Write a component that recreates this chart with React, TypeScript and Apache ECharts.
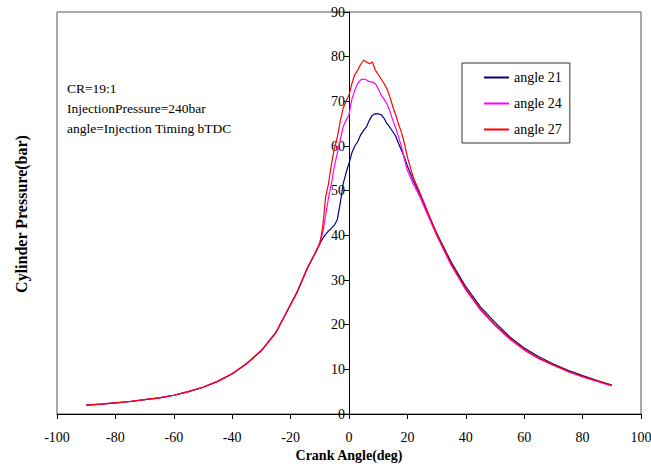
import React, { useEffect, useRef } from "react";
import * as echarts from "echarts";

const crankAngle = [
  -90, -85, -80, -75, -70, -65, -60, -55, -50, -45, -40, -35, -30, -25, -20, -18, -16, -14, -12, -11,
  -10, -9, -8, -7, -6, -5, -4, -3, -2, -1, 0, 1, 2, 3, 4, 5, 6, 7, 8, 9, 10, 11, 12, 13, 14, 15, 16, 17,
  18, 19, 20, 22, 24, 26, 28, 30, 35, 40, 45, 50, 55, 60, 65, 70, 75, 80, 85, 90,
];

const compression = [
  2.0, 2.2, 2.5, 2.8, 3.2, 3.6, 4.2, 5.0, 6.0, 7.3, 9.0, 11.3, 14.2, 18.3, 24.5, 27.0, 30.0, 33.0, 35.5, 36.8,
];

const angle21 = [
  ...compression,
  38.2, 39.3, 40.2, 41.0, 41.6, 42.3, 43.5, 47.2, 51.5, 54.0, 56.1, 58.5, 60.0, 61.0, 62.5, 63.5, 64.3, 65.8,
  66.9, 67.2, 67.2, 67.0, 66.2, 65.0, 64.2, 63.2, 62.2, 60.5, 59.0, 57.5, 55.5, 52.3, 49.6, 46.5, 43.5, 40.5,
  34.0, 28.5, 24.0, 20.5, 17.3, 14.8, 12.8, 11.2, 9.8, 8.6, 7.5, 6.5,
];

const angle24 = [
  ...compression,
  38.5, 40.5, 44.5, 48.5, 51.6, 55.5, 58.4, 61.3, 64.3, 65.8, 67.0, 70.5, 72.5, 74.0, 74.8, 75.0, 74.8, 74.4,
  74.3, 74.0, 72.8, 71.4, 70.5, 69.4, 67.8, 65.8, 64.0, 62.0, 59.8, 57.0, 54.5, 51.5, 49.0, 46.0, 43.0, 40.0,
  33.3, 27.8, 23.3, 19.8, 16.8, 14.3, 12.4, 10.9, 9.5, 8.3, 7.3, 6.3,
];

const angle27 = [
  ...compression,
  38.0, 41.9, 48.6, 51.6, 56.0, 59.5, 62.0, 65.5, 68.5, 70.0, 71.4, 74.0, 76.0, 77.0, 78.3, 79.2, 78.8, 78.4,
  78.8, 77.0, 76.0, 75.0, 74.0, 72.8, 71.0, 68.8, 67.0, 64.8, 63.0, 60.5, 57.5, 53.0, 50.0, 46.8, 43.5, 40.3,
  33.6, 28.0, 23.5, 20.0, 17.0, 14.5, 12.5, 11.0, 9.6, 8.4, 7.4, 6.4,
];

const seriesNames = ["angle 21", "angle 24", "angle 27"];
const seriesColors = ["#000080", "#ff00ff", "#ff0000"];
const annotations = ["CR=19:1", "InjectionPressure=240bar", "angle=Injection Timing bTDC"];

const FONT = "Times New Roman, Liberation Serif, serif";

export default function App() {
  const ref = useRef<HTMLDivElement>(null);

  useEffect(() => {
    if (!ref.current) return;
    const chart = echarts.init(ref.current, null, { renderer: "svg" });
    const allSeries = [angle21, angle24, angle27];
    chart.setOption({
      animation: false,
      backgroundColor: "#ffffff",
      textStyle: { fontFamily: FONT },
      grid: {
        left: 57,
        top: 12,
        width: 584,
        height: 402,
        show: true,
        borderColor: "#555",
        borderWidth: 1,
        containLabel: false,
        outerBoundsMode: "none",
      },
      legend: {
        data: seriesNames,
        orient: "vertical",
        left: 462,
        top: 63,
        padding: [7, 8, 6, 22],
        itemGap: 11,
        itemWidth: 25,
        itemHeight: 2,
        icon: "rect",
        borderColor: "#333",
        borderWidth: 1,
        backgroundColor: "#fff",
        textStyle: { fontFamily: FONT, fontSize: 14, color: "#000", lineHeight: 15 },
      },
      xAxis: {
        type: "value",
        min: -100,
        max: 100,
        interval: 20,
        name: "Crank Angle(deg)",
        nameLocation: "middle",
        nameGap: 34,
        nameTextStyle: { fontFamily: FONT, fontSize: 14, fontWeight: "bold", color: "#000" },
        axisLine: { show: true, lineStyle: { color: "#000", width: 1 } },
        axisTick: { show: true, length: 5, lineStyle: { color: "#000" } },
        axisLabel: { fontFamily: FONT, fontSize: 14, color: "#000", margin: 16 },
        splitLine: { show: false },
      },
      yAxis: {
        type: "value",
        min: 0,
        max: 90,
        interval: 10,
        offset: -292,
        axisLine: { show: true, onZero: false, lineStyle: { color: "#000", width: 1 } },
        axisTick: { show: true, length: 5, lineStyle: { color: "#000" } },
        axisLabel: { fontFamily: FONT, fontSize: 14, color: "#000", margin: 4 },
        splitLine: { show: false },
      },
      graphic: [
        ...annotations.map((t, i) => ({
          type: "text",
          left: 67,
          top: 81 + i * 20,
          style: { text: t, fontFamily: FONT, fontSize: 13.5, fill: "#000" },
        })),
        {
          type: "text",
          x: 21,
          y: 214,
          rotation: Math.PI / 2,
          style: {
            text: "Cylinder Pressure(bar)",
            fontFamily: FONT,
            fontSize: 16,
            fontWeight: "bold",
            fill: "#000",
            align: "center",
            verticalAlign: "middle",
          },
        },
      ],
      series: seriesNames.map((name, i) => ({
        name,
        type: "line",
        symbol: "none",
        showSymbol: false,
        smooth: false,
        color: seriesColors[i],
        lineStyle: { color: seriesColors[i], width: 1.2 },
        data: crankAngle.map((a, j) => [a, allSeries[i][j]]),
      })),
    });
    return () => chart.dispose();
  }, []);

  return (
    <div
      ref={ref}
      style={{ position: "absolute", left: 0, top: 0, width: 651, height: 466 }}
    />
  );
}
